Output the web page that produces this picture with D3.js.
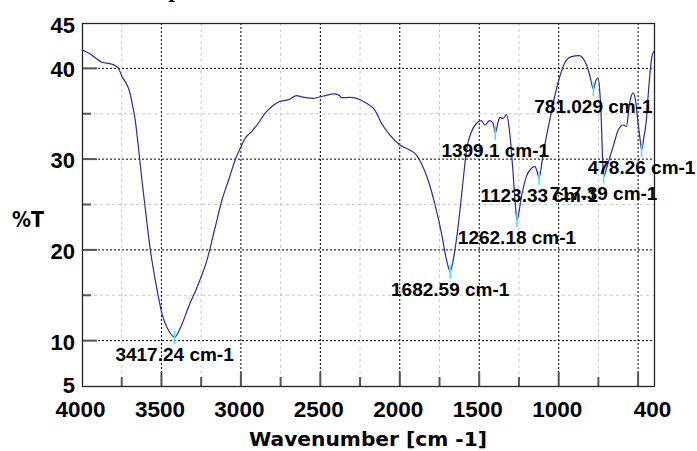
<!DOCTYPE html>
<html>
<head>
<meta charset="utf-8">
<script src="https://cdn.jsdelivr.net/npm/d3@7"></script>
<style>
  body { margin: 0; background: #fff; }
  svg { display: block; }
  text { font-family: "Liberation Sans", Arial, sans-serif; font-weight: bold; fill: #000; }
</style>
</head>
<body>
<div id="chart"></div>
<script>
const width = 697;
const height = 451;
const margin = { top: 23, right: 43, bottom: 65, left: 82 };

// spectrum: wavenumber (cm-1) and %T
const wavenumbers = [4000, 3950, 3874, 3820, 3790, 3769, 3748, 3717, 3700, 3685, 3665, 3643, 3623, 3606,
    3570, 3535, 3497, 3451, 3417.24, 3382, 3329, 3266, 3213, 3161, 3119, 3077, 3036, 3004, 2973, 2931,
    2889, 2847, 2805, 2763, 2700, 2648, 2616, 2580, 2545, 2482, 2409, 2380, 2367, 2314, 2272, 2209,
    2157, 2115, 2063, 2000, 1937, 1895, 1863, 1822, 1780, 1737, 1706, 1682.59, 1660, 1633, 1601, 1580,
    1549, 1517, 1486, 1465, 1434, 1413, 1399.1, 1381, 1371, 1350, 1329, 1308, 1287, 1272, 1262.18,
    1234, 1203, 1171, 1150, 1135, 1123.33, 1098, 1077, 1056, 1025, 993, 962, 920, 872, 825, 805,
    781.029, 767, 752, 742, 731, 725, 717.39, 690, 657, 625, 594, 574, 553, 532, 517, 501, 487, 478.26,
    463, 448, 434, 413, 400];
const transmittance = [42.06, 41.6, 40.67, 40.5, 40.3, 39.96, 39.1, 38.2, 37.4, 36.2, 34.3, 31.0, 27.7, 25.2,
    20.0, 16.3, 13.0, 11.0, 10.37, 11.35, 13.74, 16.3, 18.9, 22.55, 25.5, 27.7, 29.9, 31.2, 32.3, 33.06,
    33.98, 35.08, 35.8, 36.3, 36.55, 37.0, 36.85, 36.75, 36.7, 36.96, 37.18, 37.0, 36.77, 36.8, 36.7, 36.15,
    35.4, 33.95, 32.66, 31.56, 31.0, 30.45, 29.5, 27.7, 25.1, 21.8, 18.9, 17.6, 19.25, 22.55, 27.7, 31.0,
    33.0, 33.95, 34.24, 33.76, 34.24, 33.95, 32.9, 34.1, 34.6, 34.5, 34.9, 32.9, 28.5, 24.8, 23.3,
    25.9, 28.1, 29.0, 29.2, 28.6, 27.9, 30.6, 32.5, 34.3, 36.9, 39.1, 40.6, 41.3, 41.4, 40.4, 39.3,
    37.7, 38.6, 38.94, 37.65, 34.0, 30.6, 28.1, 29.5, 31.4, 33.2, 33.76, 33.6, 36.2, 37.3, 36.55, 34.1, 32.1, 31.0,
    32.5, 34.3, 37.65, 41.3, 41.9];

// picked peaks
const peakWavenumbers = [3417.24, 1682.59, 1262.18, 1399.1, 1123.33, 717.39, 478.26, 781.029];
const peakLabels = ["3417.24 cm-1", "1682.59 cm-1", "1262.18 cm-1", "1399.1 cm-1", "1123.33 cm-1",
    "717.39 cm-1", "478.26 cm-1", "781.029 cm-1"];

const xTickLabels = [4000, 3500, 3000, 2500, 2000, 1500, 1000, 400];
const xMajor = [3500, 3000, 2500, 2000, 1500, 1000, 500];
const xMinor = [3750, 3250, 2750, 2250, 1750, 1250, 750];
const yTickLabels = [5, 10, 20, 30, 40, 45];
const yMajor = [10, 20, 30, 40];
const yMinor = [15, 25, 35];

const data = wavenumbers.map((w, i) => ({ w: w, t: transmittance[i] }));

const svg = d3.select("#chart")
    .append("svg")
    .attr("width", width)
    .attr("height", height);

svg.append("rect").attr("width", width).attr("height", height).attr("fill", "#fff");

const x = d3.scaleLinear().domain([4000, 400]).range([margin.left, width - margin.right]);
const y = d3.scaleLinear().domain([5, 45]).range([height - margin.bottom, margin.top]);

const x0 = margin.left, x1 = width - margin.right;
const y0 = margin.top, y1 = height - margin.bottom;

// title (cut off at the top of the picture)
svg.append("text")
    .attr("x", 175)
    .attr("y", -3)
    .attr("text-anchor", "middle")
    .style("font-family", "'Liberation Serif', serif")
    .style("font-size", "24px")
    .text("p");

// grid
svg.selectAll(".gx-minor").data(xMinor).join("line")
    .attr("x1", d => x(d)).attr("x2", d => x(d))
    .attr("y1", y0).attr("y2", y1)
    .attr("stroke", "#c8c8c8").attr("stroke-dasharray", "3,3");
svg.selectAll(".gy-minor").data(yMinor).join("line")
    .attr("x1", x0).attr("x2", x1)
    .attr("y1", d => y(d)).attr("y2", d => y(d))
    .attr("stroke", "#c8c8c8").attr("stroke-dasharray", "3,3");
svg.selectAll(".gx-major").data(xMajor).join("line")
    .attr("x1", d => x(d)).attr("x2", d => x(d))
    .attr("y1", y0).attr("y2", y1)
    .attr("stroke", "#000").attr("stroke-dasharray", "2,2");
svg.selectAll(".gy-major").data(yMajor).join("line")
    .attr("x1", x0).attr("x2", x1)
    .attr("y1", d => y(d)).attr("y2", d => y(d))
    .attr("stroke", "#000").attr("stroke-dasharray", "2,2");

// tick marks on the inside
svg.selectAll(".ty").data(yMajor.concat(yMinor)).join("line")
    .attr("x1", x0).attr("x2", d => x0 + (yMajor.includes(d) ? 15 : 9))
    .attr("y1", d => y(d)).attr("y2", d => y(d))
    .attr("stroke", "#555").attr("stroke-width", 2);
svg.selectAll(".tx").data(xMajor.concat(xMinor)).join("line")
    .attr("x1", d => x(d)).attr("x2", d => x(d))
    .attr("y1", y1).attr("y2", d => y1 - (xMajor.includes(d) ? 14 : 9))
    .attr("stroke", "#555").attr("stroke-width", 2);

// frame
svg.append("rect")
    .attr("x", x0 + 0.5).attr("y", y0 + 0.5)
    .attr("width", x1 - x0).attr("height", y1 - y0)
    .attr("fill", "none").attr("stroke", "#222").attr("stroke-width", 1.3);

// axis labels via d3 axes
const xAxis = svg.append("g")
    .attr("transform", `translate(-2,${y1})`)
    .call(d3.axisBottom(x).tickValues(xTickLabels).tickSize(0).tickFormat(d3.format("d")));
xAxis.select(".domain").remove();
xAxis.selectAll("text")
    .attr("y", 31).attr("dy", 0)
    .style("font-size", "22.5px");

const yAxis = svg.append("g")
    .attr("transform", `translate(${x0 - 7},0)`)
    .call(d3.axisLeft(y).tickValues(yTickLabels).tickSize(0).tickFormat(d3.format("d")));
yAxis.select(".domain").remove();
yAxis.selectAll("text")
    .attr("x", 0).attr("dy", 0)
    .attr("y", d => d === 5 ? 6 : (d === 45 ? 9.5 : 8.5))
    .style("font-size", "22px");
svg.selectAll(".tick text").style("font-family", "'Liberation Sans', Arial, sans-serif").attr("fill", "#000");

// spectrum
const line = d3.line()
    .x(d => x(d.w))
    .y(d => y(d.t))
    .curve(d3.curveMonotoneX);

svg.append("path")
    .datum(data)
    .attr("d", line)
    .attr("fill", "none")
    .attr("stroke", "#2a2aa0")
    .attr("stroke-width", 1.2);

// peak markers and labels
const peaks = peakWavenumbers.map((w, i) => ({
    w: w,
    t: data.find(d => d.w === w).t,
    label: peakLabels[i]
}));

svg.selectAll(".pk").data(peaks).join("line")
    .attr("x1", d => x(d.w)).attr("x2", d => x(d.w))
    .attr("y1", d => y(d.t) - 7).attr("y2", d => y(d.t) + 7)
    .attr("stroke", "#40e6f0").attr("stroke-width", 1.6);

svg.selectAll(".pl").data(peaks).join("text")
    .attr("x", d => x(d.w))
    .attr("y", d => y(d.t) + 24)
    .attr("text-anchor", "middle")
    .style("font-size", "19px")
    .text(d => d.label);

// axis titles
svg.append("text")
    .attr("x", 368)
    .attr("y", 446)
    .attr("text-anchor", "middle")
    .attr("textLength", 238)
    .attr("lengthAdjust", "spacingAndGlyphs")
    .style("font-family", "'DejaVu Sans', sans-serif")
    .style("font-size", "20px")
    .text("Wavenumber [cm -1]");

svg.append("text")
    .attr("x", 12)
    .attr("y", 227)
    .attr("textLength", 32)
    .attr("lengthAdjust", "spacingAndGlyphs")
    .style("font-family", "'DejaVu Sans', sans-serif")
    .style("font-size", "22px")
    .text("%T");
</script>
</body>
</html>
